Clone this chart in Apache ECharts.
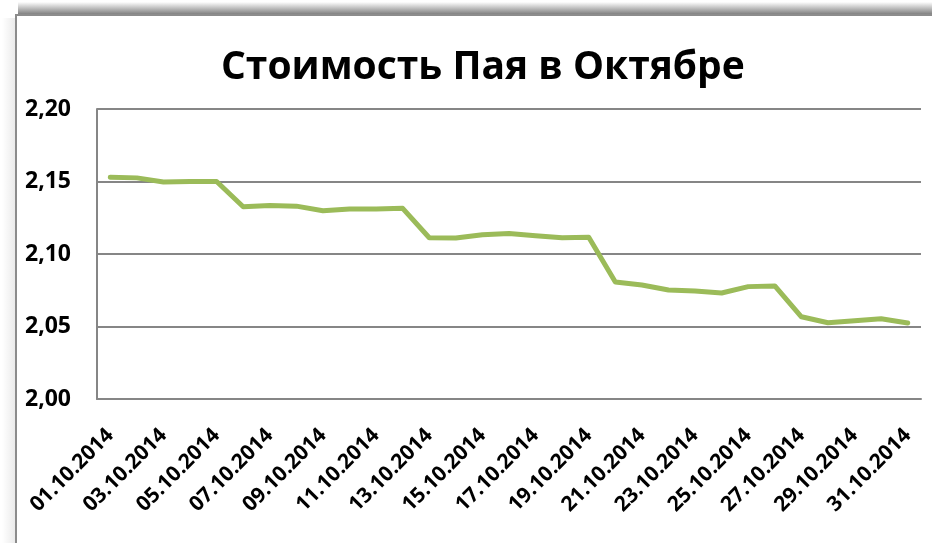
<!DOCTYPE html>
<html>
<head>
<meta charset="utf-8">
<script src="https://cdn.jsdelivr.net/npm/echarts@6/dist/echarts.min.js"></script>
<style>
html,body{margin:0;padding:0;background:#fff;}
#c{width:932px;height:543px;}
</style>
</head>
<body>
<div id="c"></div>
<script>
const titleText = 'Стоимость Пая в Октябре';
const dates = ['01.10.2014','02.10.2014','03.10.2014','04.10.2014','05.10.2014','06.10.2014','07.10.2014','08.10.2014','09.10.2014','10.10.2014','11.10.2014','12.10.2014','13.10.2014','14.10.2014','15.10.2014','16.10.2014','17.10.2014','18.10.2014','19.10.2014','20.10.2014','21.10.2014','22.10.2014','23.10.2014','24.10.2014','25.10.2014','26.10.2014','27.10.2014','28.10.2014','29.10.2014','30.10.2014','31.10.2014'];
const prices = [2.153,2.1525,2.1497,2.150,2.150,2.1326,2.1334,2.133,2.1298,2.131,2.131,2.1315,2.1112,2.111,2.1133,2.1142,2.1126,2.1112,2.1115,2.0807,2.0786,2.0752,2.0745,2.0731,2.0775,2.078,2.0567,2.0526,2.054,2.0553,2.0524];
const yMin = 2.00, yMax = 2.20, yStep = 0.05;

const FONT = '"Open Sans", sans-serif';
const chart = echarts.init(document.getElementById('c'), null, {renderer:'canvas'});
chart.setOption({
  backgroundColor: '#ffffff',
  animation: false,
  graphic: [
    {type:'rect', shape:{x:18,y:2,width:914,height:13}, silent:true,
     style:{fill:new echarts.graphic.LinearGradient(0,0,0,1,[{offset:0,color:'rgba(255,255,255,1)'},{offset:1,color:'rgba(120,120,120,1)'}])}},
    {type:'rect', shape:{x:2,y:18,width:13,height:525}, silent:true,
     style:{fill:new echarts.graphic.LinearGradient(0,0,1,0,[{offset:0,color:'rgba(255,255,255,1)'},{offset:1,color:'rgba(235,235,235,1)'}])}},
    {type:'polyline', shape:{points:[[16,543],[16,15],[932,15]]}, silent:true,
     style:{stroke:'#8c8c8c', lineWidth:2, fill:null}}
  ],
  title: {
    text: titleText,
    left: 216,
    top: 43,
    textStyle: {fontFamily: FONT, fontWeight: 'bold', fontSize: 39, color: '#000'}
  },
  grid: {left: 97, right: 11, top: 109, bottom: 144},
  xAxis: {
    type: 'category',
    data: dates,
    boundaryGap: true,
    axisLine: {show: true, lineStyle: {color: '#868686', width: 2}},
    axisTick: {show: false},
    axisLabel: {
      interval: 1,
      rotate: 45,
      margin: 33,
      fontFamily: FONT, fontWeight: 'bold', fontSize: 21, color: '#000'
    }
  },
  yAxis: {
    type: 'value',
    min: yMin, max: yMax, interval: yStep,
    axisLine: {show: true, lineStyle: {color: '#868686', width: 2}},
    axisTick: {show: false},
    splitLine: {show: true, lineStyle: {color: '#868686', width: 2}},
    axisLabel: {
      margin: 26,
      fontFamily: FONT, fontWeight: 'bold', fontSize: 23, color: '#000',
      formatter: v => v.toFixed(2).replace('.', ',')
    }
  },
  series: [{
    type: 'line',
    data: prices,
    symbol: 'none',
    smooth: false,
    lineStyle: {color: '#9bbb59', width: 5, cap: 'round', join: 'round'},
    itemStyle: {color: '#9bbb59'}
  }]
});
</script>
</body>
</html>
